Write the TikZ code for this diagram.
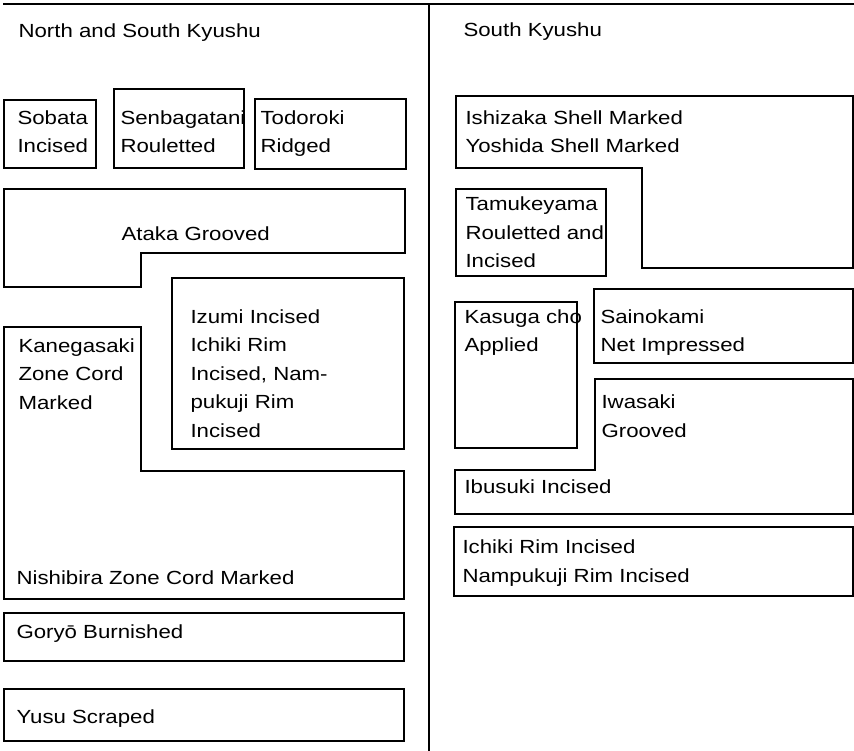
\documentclass[tikz,border=0pt]{standalone}
\usepackage{fontspec}
\setmainfont[FakeStretch=1.17]{Liberation Sans}
\usepackage{tikz}

\begin{document}
\begin{tikzpicture}[x=1pt, y=-1pt, line width=1.1pt,
        lbl/.style={anchor=base west, inner sep=0pt, align=left,
                    font=\fontsize{19}{28.5}\selectfont}]
        \useasboundingbox (0,0) rectangle (854,751);
        % frame (labels sit on the baseline of their last line)
        \draw (3,4) -- (854,4) (429,4) -- (429,751);
        % North and South Kyushu
        \node[lbl] (hdrL) at (18,38) {North and South Kyushu};
        \draw (4,100) rectangle (96,168) (114,89) rectangle (244,168) (255,99) rectangle (406,169);
        \node[lbl] (sobata) at (17,153) {Sobata\\Incised};
        \node[lbl] (senbagatani) at (120,153) {Senbagatani\\Rouletted};
        \node[lbl] (todoroki) at (260,153) {Todoroki\\Ridged};
        \draw (4,189) -- (405,189) -- (405,253) -- (141,253) -- (141,287) -- (4,287) -- cycle;
        \node[lbl] (ataka) at (121,241) {Ataka Grooved};
        \draw (172,278) rectangle (404,449);
        \node[lbl] (izumi) at (190,437) {Izumi Incised\\Ichiki Rim\\Incised, Nam-\\pukuji Rim\\Incised};
        \draw (4,327) -- (141,327) -- (141,471) -- (404,471) -- (404,599) -- (4,599) -- cycle;
        \node[lbl] (kanegasaki) at (18,409) {Kanegasaki\\Zone Cord\\Marked};
        \node[lbl] (nishibira) at (16,584) {Nishibira Zone Cord Marked};
        \draw (4,613) rectangle (404,661) (4,689) rectangle (404,741);
        \node[lbl] (goryo) at (16,638) {Goryō Burnished};
        \node[lbl] (yusu) at (16,723) {Yusu Scraped};
        % South Kyushu
        \node[lbl] (hdrR) at (463,37) {South Kyushu};
        \draw (456,96) -- (853,96) -- (853,268) -- (642,268) -- (642,168) -- (456,168) -- cycle;
        \node[lbl] (ishizaka) at (465,153) {Ishizaka Shell Marked\\Yoshida Shell Marked};
        \draw (456,189) rectangle (606,276);
        \node[lbl] (tamukeyama) at (465,268) {Tamukeyama\\Rouletted and\\Incised};
        \draw (455,302) rectangle (577,448) (594,289) rectangle (853,363);
        \node[lbl] (kasuga) at (464,352) {Kasuga cho\\Applied};
        \node[lbl] (sainokami) at (600,352) {Sainokami\\Net Impressed};
        \draw (595,379) -- (853,379) -- (853,514) -- (455,514) -- (455,470) -- (595,470) -- cycle;
        \node[lbl] (iwasaki) at (601,437) {Iwasaki\\Grooved};
        \node[lbl] (ibusuki) at (464,493) {Ibusuki Incised};
        \draw (454,527) rectangle (853,596);
        \node[lbl] (ichiki) at (462,582) {Ichiki Rim Incised\\Nampukuji Rim Incised};
\end{tikzpicture}
\end{document}
